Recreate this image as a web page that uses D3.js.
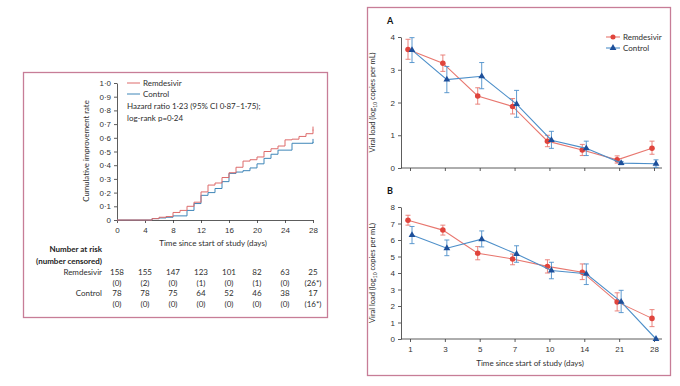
<!DOCTYPE html>
<html>
<head>
<meta charset="utf-8">
<script src="https://cdn.jsdelivr.net/npm/d3@7"></script>
<style>
  body { margin: 0; background: #fff; }
  svg { font-family: Lato, "Noto Sans", sans-serif; }
  .axis path, .axis line { stroke: #333; stroke-width: 0.8; }
  .axis text { fill: #333; font-size: 8px; }
</style>
</head>
<body>
<svg id="chart" width="680" height="386"></svg>
<script>
// ---- data: left panel (Kaplan-Meier style) ----
var kmDays = d3.range(0, 29);
var kmRemdesivir = [0, 0, 0, 0, 0, 0.01, 0.02, 0.025, 0.055, 0.07, 0.1, 0.13, 0.205, 0.255, 0.27, 0.31, 0.345, 0.385, 0.43, 0.44, 0.46, 0.5, 0.52, 0.54, 0.585, 0.59, 0.61, 0.63, 0.66];
var kmControl    = [0, 0, 0, 0, 0, 0.01, 0.015, 0.02, 0.03, 0.03, 0.07, 0.12, 0.18, 0.2, 0.23, 0.28, 0.34, 0.35, 0.36, 0.38, 0.41, 0.45, 0.48, 0.51, 0.51, 0.56, 0.56, 0.56, 0.57];
var kmTicksX = [0, 4, 8, 12, 16, 20, 24, 28];
var kmTicksY = [0, 0.1, 0.2, 0.3, 0.4, 0.5, 0.6, 0.7, 0.8, 0.9, 1.0];
var riskRemdesivir = ["158", "155", "147", "123", "101", "82", "63", "25"];
var censRemdesivir = ["(0)", "(2)", "(0)", "(1)", "(0)", "(1)", "(0)", "(26*)"];
var riskControl    = ["78", "78", "75", "64", "52", "46", "38", "17"];
var censControl    = ["(0)", "(0)", "(0)", "(0)", "(0)", "(0)", "(0)", "(16*)"];

// ---- data: right panels (viral load) ----
var vlDays = ["1", "3", "5", "7", "10", "14", "21", "28"];
var aRem    = [3.62, 3.2, 2.2, 1.88, 0.82, 0.55, 0.25, 0.6];
var aRemLo  = [3.32, 2.95, 1.95, 1.65, 0.65, 0.38, 0.15, 0.42];
var aRemHi  = [3.93, 3.45, 2.45, 2.12, 1.0, 0.72, 0.37, 0.82];
var aCon    = [3.6, 2.7, 2.8, 1.95, 0.85, 0.6, 0.15, 0.13];
var aConLo  = [3.22, 2.3, 2.42, 1.55, 0.6, 0.38, 0.1, 0.02];
var aConHi  = [3.98, 3.1, 3.22, 2.37, 1.12, 0.82, 0.2, 0.25];
var bRem    = [7.2, 6.6, 5.2, 4.85, 4.4, 4.05, 2.25, 1.25];
var bRemLo  = [6.9, 6.3, 4.8, 4.5, 4.0, 3.6, 1.7, 0.75];
var bRemHi  = [7.5, 6.9, 5.6, 5.15, 4.8, 4.55, 2.8, 1.78];
var bCon    = [6.3, 5.5, 6.05, 5.15, 4.15, 3.95, 2.25, 0.0];
var bConLo  = [5.78, 5.05, 5.58, 4.65, 3.65, 3.3, 1.6, 0.0];
var bConHi  = [6.82, 6.0, 6.55, 5.65, 4.65, 4.55, 2.95, 0.0];

var RED = "#e0443c", RED_L = "#e8776f", BLUE = "#1d4f9a", BLUE_L = "#4d8fc9";
var KM_RED = "#dd6b6b", KM_BLUE = "#3f86b8";
var BOX = "#c77d97";
var TXT = "#2e2e2e";

var svg = d3.select("#chart");
function fmt1(v) { return d3.format(".1f")(v).replace(".", "\u00b7"); }

// ---------- frames ----------
svg.append("rect").attr("x", 23.5).attr("y", 72.5).attr("width", 304).attr("height", 245)
  .attr("fill", "none").attr("stroke", BOX).attr("stroke-width", 1.3);
svg.append("rect").attr("x", 367.5).attr("y", 7.5).attr("width", 303).attr("height", 368)
  .attr("fill", "none").attr("stroke", BOX).attr("stroke-width", 1.3);

// ---------- left panel ----------
var kx = d3.scaleLinear().domain([0, 28]).range([117, 313]);
var ky = d3.scaleLinear().domain([0, 1]).range([220, 83]);

svg.append("g").attr("class", "axis").attr("transform", "translate(0,220)")
  .call(d3.axisBottom(kx).tickValues(kmTicksX).tickSize(3).tickSizeOuter(0))
  .call(function(g) { g.selectAll("text").attr("dy", "0.85em"); });
svg.append("g").attr("class", "axis").attr("transform", "translate(117,0)")
  .call(d3.axisLeft(ky).tickValues(kmTicksY).tickSize(3).tickSizeOuter(0)
    .tickFormat(function(d) { return d === 0 ? "0" : fmt1(d); }));

svg.append("text").attr("transform", "translate(89,151) rotate(-90)")
  .attr("text-anchor", "middle").attr("font-size", 7.8).attr("fill", TXT)
  .text("Cumulative improvement rate");
svg.append("text").attr("x", 213).attr("y", 246).attr("text-anchor", "middle")
  .attr("font-size", 8).attr("fill", TXT).text("Time since start of study (days)");

var stepLine = d3.line().curve(d3.curveStepAfter)
  .x(function(d, i) { return kx(kmDays[i]); }).y(function(d) { return ky(d); });
svg.append("path").datum(kmControl).attr("d", stepLine)
  .attr("fill", "none").attr("stroke", KM_BLUE).attr("stroke-width", 1);
svg.append("path").datum(kmRemdesivir).attr("d", stepLine)
  .attr("fill", "none").attr("stroke", KM_RED).attr("stroke-width", 1);
// end censor ticks
[[kmRemdesivir, KM_RED], [kmControl, KM_BLUE]].forEach(function(s) {
  var v = s[0][28];
  svg.append("line").attr("x1", kx(28)).attr("x2", kx(28))
    .attr("y1", ky(v) - 3).attr("y2", ky(v) + 1).attr("stroke", s[1]).attr("stroke-width", 1);
});

// legend + annotation
var kmLegend = [["Remdesivir", KM_RED], ["Control", KM_BLUE]];
kmLegend.forEach(function(d, i) {
  var y = 83 + i * 11;
  svg.append("line").attr("x1", 127).attr("x2", 140).attr("y1", y).attr("y2", y)
    .attr("stroke", d[1]).attr("stroke-width", 1);
  svg.append("text").attr("x", 143).attr("y", y + 2.8).attr("font-size", 8)
    .attr("fill", TXT).text(d[0]);
});
svg.append("text").attr("x", 127).attr("y", 109).attr("font-size", 8).attr("fill", TXT)
  .text("Hazard ratio 1\u00b723 (95% CI 0\u00b787\u20131\u00b775);");
svg.append("text").attr("x", 127).attr("y", 121).attr("font-size", 8).attr("fill", TXT)
  .text("log-rank p=0\u00b724");

// number at risk table
svg.append("text").attr("x", 102).attr("y", 252).attr("text-anchor", "end")
  .attr("font-size", 8).attr("font-weight", "bold").attr("fill", "#222").text("Number at risk");
svg.append("text").attr("x", 102).attr("y", 264).attr("text-anchor", "end")
  .attr("font-size", 8).attr("font-weight", "bold").attr("fill", "#222").text("(number censored)");
var tableRows = [
  ["Remdesivir", riskRemdesivir, 275],
  [null, censRemdesivir, 286],
  ["Control", riskControl, 296],
  [null, censControl, 307]
];
tableRows.forEach(function(r) {
  if (r[0]) svg.append("text").attr("x", 102).attr("y", r[2]).attr("text-anchor", "end")
    .attr("font-size", 8).attr("fill", TXT).text(r[0]);
  svg.selectAll(null).data(r[1]).enter().append("text")
    .attr("x", function(d, i) { return kx(kmTicksX[i]); }).attr("y", r[2])
    .attr("text-anchor", "middle").attr("font-size", 8).attr("fill", TXT)
    .text(function(d) { return d; });
});

// ---------- right panels ----------
var vx = d3.scalePoint().domain(vlDays).range([410, 654]);

function panel(label, yTop, yBottom, yMax, yTicks, rem, remLo, remHi, con, conLo, conHi, showXLabels) {
  var y = d3.scaleLinear().domain([0, yMax]).range([yBottom, yTop]);
  svg.append("line").attr("x1", 401).attr("x2", 662).attr("y1", yBottom).attr("y2", yBottom)
    .attr("stroke", "#333").attr("stroke-width", 0.8);
  var xa = svg.append("g").attr("class", "axis").attr("transform", "translate(0," + yBottom + ")")
    .call(d3.axisBottom(vx).tickSize(3).tickSizeOuter(0));
  xa.select(".domain").remove();
  if (!showXLabels) xa.selectAll("text").remove();
  else xa.selectAll("text").attr("dy", "0.85em");
  svg.append("g").attr("class", "axis").attr("transform", "translate(401,0)")
    .call(d3.axisLeft(y).tickValues(yTicks).tickSize(3).tickSizeOuter(0).tickFormat(d3.format("d")));
  svg.append("text").attr("x", 387).attr("y", yTop - 13).attr("font-size", 9)
    .attr("font-weight", "bold").attr("fill", "#111").text(label);
  var yl = svg.append("text").attr("transform", "translate(375," + ((yTop + yBottom) / 2) + ") rotate(-90)")
    .attr("text-anchor", "middle").attr("font-size", 7.5).attr("fill", TXT);
  yl.append("tspan").text("Viral load (log");
  yl.append("tspan").attr("font-size", 5).attr("dy", 1.5).text("10");
  yl.append("tspan").attr("dy", -1.5).text(" copies per mL)");

  var series = [
    { v: rem, lo: remLo, hi: remHi, c: RED, cl: RED_L, off: -2, sym: d3.symbolCircle },
    { v: con, lo: conLo, hi: conHi, c: BLUE, cl: BLUE_L, off: 2, sym: d3.symbolTriangle }
  ];
  series.forEach(function(s) {
    var px = function(i) { return vx(vlDays[i]) + s.off; };
    var line = d3.line().x(function(d, i) { return px(i); }).y(function(d) { return y(d); });
    svg.append("path").datum(s.v).attr("d", line).attr("fill", "none")
      .attr("stroke", s.cl).attr("stroke-width", 1.1);
    s.v.forEach(function(v, i) {
      if (s.hi[i] - s.lo[i] > 0.01) {
        var g = svg.append("g").attr("stroke", s.cl).attr("stroke-width", 0.9);
        g.append("line").attr("x1", px(i)).attr("x2", px(i)).attr("y1", y(s.lo[i])).attr("y2", y(s.hi[i]));
        g.append("line").attr("x1", px(i) - 2.5).attr("x2", px(i) + 2.5).attr("y1", y(s.lo[i])).attr("y2", y(s.lo[i]));
        g.append("line").attr("x1", px(i) - 2.5).attr("x2", px(i) + 2.5).attr("y1", y(s.hi[i])).attr("y2", y(s.hi[i]));
      }
    });
    svg.selectAll(null).data(s.v).enter().append("path")
      .attr("d", d3.symbol().type(s.sym).size(s.sym === d3.symbolCircle ? 24 : 20))
      .attr("transform", function(d, i) { return "translate(" + px(i) + "," + y(d) + ")"; })
      .attr("fill", s.c);
  });
}

panel("A", 37, 168, 4, [0, 1, 2, 3, 4], aRem, aRemLo, aRemHi, aCon, aConLo, aConHi, false);
panel("B", 207, 339, 8, d3.range(0, 9), bRem, bRemLo, bRemHi, bCon, bConLo, bConHi, true);

svg.append("text").attr("x", 530).attr("y", 366).attr("text-anchor", "middle")
  .attr("font-size", 8).attr("fill", TXT).text("Time since start of study (days)");

// legend right
var vlLegend = [["Remdesivir", RED, RED_L, d3.symbolCircle], ["Control", BLUE, BLUE_L, d3.symbolTriangle]];
vlLegend.forEach(function(d, i) {
  var y = 37 + i * 11;
  svg.append("line").attr("x1", 606).attr("x2", 620).attr("y1", y).attr("y2", y)
    .attr("stroke", d[2]).attr("stroke-width", 1.1);
  svg.append("path").attr("d", d3.symbol().type(d[3]).size(20)())
    .attr("transform", "translate(613," + y + ")").attr("fill", d[1]);
  svg.append("text").attr("x", 623).attr("y", y + 2.8).attr("font-size", 8)
    .attr("fill", TXT).text(d[0]);
});
</script>
</body>
</html>
